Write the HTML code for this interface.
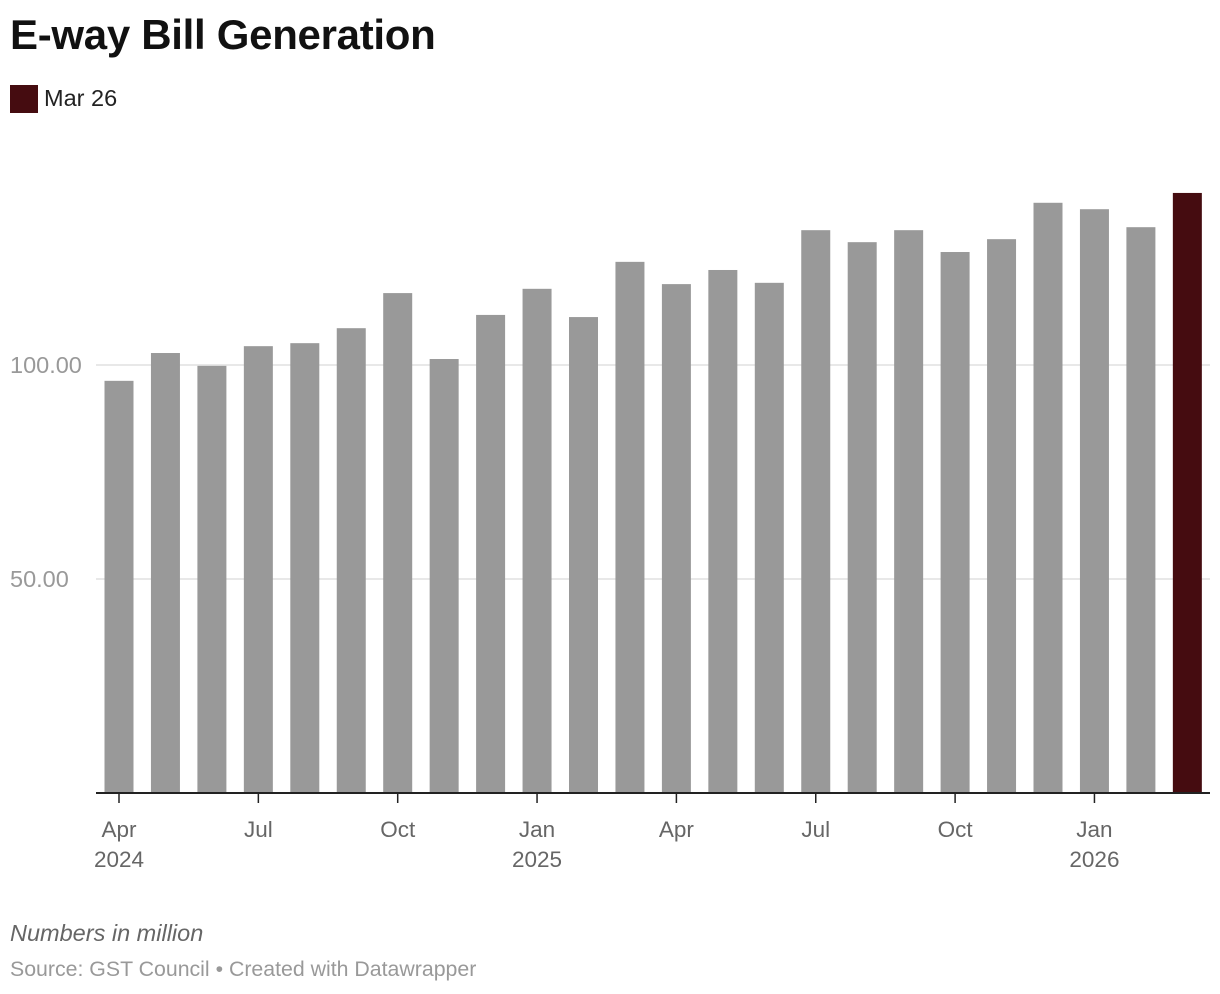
<!DOCTYPE html>
<html><head><meta charset="utf-8"><style>
body{margin:0;width:1220px;height:994px;background:#fff;font-family:"Liberation Sans",sans-serif;overflow:hidden;position:relative}
.t{position:absolute;white-space:nowrap}
</style></head><body>
<div class="t" style="left:10px;top:11px;font-size:42px;font-weight:bold;color:#111;letter-spacing:-0.3px">E-way Bill Generation</div>
<div style="position:absolute;left:10px;top:85px;height:28px">
<div style="position:absolute;left:0;top:0;width:28px;height:28px;background:#450c10"></div>
<div class="t" style="left:34px;top:0px;font-size:23.5px;color:#222">Mar 26</div>
</div>
<svg id="chart" width="1220" height="994" style="position:absolute;left:0;top:0"></svg>
<div class="t" style="left:10px;top:920px;font-size:23.5px;font-style:italic;color:#666">Numbers in million</div>
<div class="t" style="left:10px;top:957px;font-size:21.3px;color:#999">Source: GST Council • Created with Datawrapper</div>
<script>
const categories=["Apr 2024","May 2024","Jun 2024","Jul 2024","Aug 2024","Sep 2024","Oct 2024","Nov 2024","Dec 2024","Jan 2025","Feb 2025","Mar 2025","Apr 2025","May 2025","Jun 2025","Jul 2025","Aug 2025","Sep 2025","Oct 2025","Nov 2025","Dec 2025","Jan 2026","Feb 2026","Mar 2026"];
const values=[96.3,102.8,99.8,104.4,105.1,108.6,116.8,101.4,111.7,117.8,111.2,124.1,118.9,122.2,119.2,131.5,128.7,131.5,126.4,129.4,137.9,136.4,132.2,140.2];
const yTicks=[50,100];
const yTickLabels=["50.00","100.00"];
const xTickIdx=[0,3,6,9,12,15,18,21];
const xTickLabels=[["Apr","2024"],["Jul",""],["Oct",""],["Jan","2025"],["Apr",""],["Jul",""],["Oct",""],["Jan","2026"]];
const NS="http://www.w3.org/2000/svg";
const svg=document.getElementById('chart');
const y0=793,pxPer=4.28,x0=104.5,step=46.45,bw=29;
const y=v=>y0-v*pxPer;
const x=i=>x0+i*step;
function mk(t,a){const e=document.createElementNS(NS,t);for(const k in a)e.setAttribute(k,a[k]);svg.appendChild(e);return e;}
yTicks.forEach((v,i)=>{
 const l=mk('line',{x1:96,x2:1210,y1:y(v),y2:y(v),stroke:'#e0e0e0','stroke-width':1.5});
 
 
 const t=mk('text',{x:10,y:y(v)+8,'font-size':23.5,fill:'#999','font-family':'Liberation Sans, sans-serif'});
 t.textContent=yTickLabels[i];
 
 
});
values.forEach((v,i)=>{
 const r=mk('rect',{x:x(i),y:y(v),width:bw,height:y0-y(v),fill:i===values.length-1?'#450c10':'#999999'});
 
 
});
const ax=mk('line',{x1:96,x2:1210,y1:y0,y2:y0,stroke:'#222','stroke-width':2});


xTickIdx.forEach((idx,j)=>{
 const cx=x(idx)+bw/2;
 const tk=mk('line',{x1:cx,x2:cx,y1:y0,y2:y0+10,stroke:'#222','stroke-width':1.5});
 
 
 xTickLabels[j].forEach((s,k)=>{ if(!s)return;
  const t=mk('text',{x:cx,y:837+k*30,'font-size':22.5,fill:'#666','text-anchor':'middle','font-family':'Liberation Sans, sans-serif'});
  t.textContent=s;
  
  
 });
});
</script>
</body></html>
